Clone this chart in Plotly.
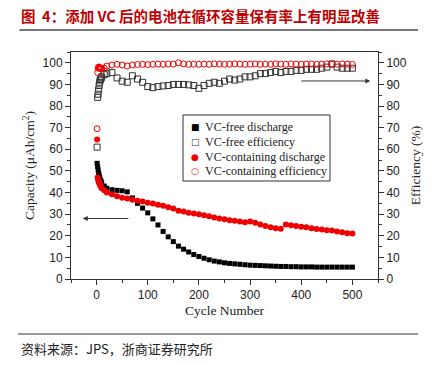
import plotly.graph_objects as go

cycles = [1, 2, 3, 4, 5, 6, 7, 8, 9, 10, 15, 20,
          30, 40, 50, 60, 70, 80, 90, 100, 110, 120, 130, 140, 150, 160, 170, 180, 190, 200,
          210, 220, 230, 240, 250, 260, 270, 280, 290, 300, 310, 320, 330, 340, 350, 360,
          370, 380, 390, 400, 410, 420, 430, 440, 450, 460, 470, 480, 490, 500]

vcfree_discharge = [53.5, 52, 50.5, 49, 48, 47, 46, 45.5, 45, 44.5, 43, 42,
                    41.3, 41, 40.8, 40.3, 37.5, 35, 32.8, 30.6, 27.8, 25, 22, 19.5, 17.3, 15.2, 13.8, 12.5, 11.3, 10.4,
                    9.6, 8.9, 8.3, 7.9, 7.5, 7.2, 7.0, 6.8, 6.6, 6.4, 6.3, 6.2, 6.1, 6.0, 5.9, 5.8,
                    5.8, 5.7, 5.7, 5.6, 5.6, 5.6, 5.5, 5.5, 5.5, 5.5, 5.5, 5.5, 5.5, 5.5]

vcfree_eff = [61, 84, 85.5, 87.5, 89.5, 91, 92, 92.5, 93, 93.5, 94.5, 95,
              95.5, 93, 91.5, 91, 94, 92.5, 91, 89, 88.5, 89, 89.3, 89.5, 90, 90, 90, 89.8, 89.5, 88.2,
              89.5, 90.5, 91, 90.5, 91.5, 92.5, 92, 92.5, 93.5, 93.5, 94, 95, 95, 95.5, 96, 95.5,
              96, 96, 96.5, 96.5, 97, 97, 97, 97.5, 98, 99.5, 98, 97.5, 97.5, 97.5]

vc_discharge = [64.5, 47, 46, 45, 44.5, 44, 43.5, 43, 42.5, 42, 41, 40,
                39.2, 38.3, 37.6, 37.2, 36.7, 36.2, 35.8, 35.3, 34.9, 34.4, 33.9, 33.2, 32.6, 31.6, 31.2, 30.7, 30.3, 30,
                29.5, 29, 28.4, 28, 27.6, 27.2, 26.9, 26.6, 26.3, 26.6, 26.0, 25.2, 24.5, 23.9, 23.5, 23.3,
                25.2, 24.9, 24.5, 24.2, 23.9, 23.5, 23.1, 22.9, 22.6, 22.4, 22.0, 21.6, 21.2, 21.0]

vc_eff = [69.5, 95.5, 97.5, 98, 98, 97.8, 97.5, 97.5, 97.3, 97.3, 97.5, 98.5,
          99, 99.3, 99, 98.5, 99, 99.2, 99.3, 99.2, 99.3, 99.4, 99.3, 99.5, 99.4, 100, 99.5, 99.3, 99.4, 99.3,
          99.4, 99.3, 99.5, 99.4, 99.3, 99.4, 99.5, 99.4, 99.3, 99.4, 99.5, 99.3, 99.4, 99.3, 99.5, 99.4,
          99.3, 99.5, 99.4, 99.3, 99.4, 99.5, 99.3, 99.4, 99.5, 99.3, 99.4, 99.5, 99.4, 99.3]

series_names = ["VC-free discharge", "VC-free efficiency", "VC-containing discharge", "VC-containing efficiency"]
x_ticks = [0, 100, 200, 300, 400, 500]
y_ticks = [0, 10, 20, 30, 40, 50, 60, 70, 80, 90, 100]

title_text = "图  4：添加 VC 后的电池在循环容量保有率上有明显改善"
source_text = "资料来源：JPS，浙商证券研究所"

W, H = 435, 365
L, R, T, B = 71, 57, 52, 86
pw, ph = W - L - R, H - T - B

def px(xp):
    return (xp - L) / pw

def py(yp):
    return (H - B - yp) / ph

RED = "#ee0000"
fig = go.Figure()
fig.add_trace(go.Scatter(x=cycles, y=vcfree_discharge, mode="markers", name=series_names[0],
                         marker=dict(symbol="square", size=5, color="black")))
fig.add_trace(go.Scatter(x=cycles, y=vcfree_eff, mode="markers", name=series_names[1], yaxis="y2",
                         marker=dict(symbol="square-open", size=6, color="#333333", line=dict(width=1))))
fig.add_trace(go.Scatter(x=cycles, y=vc_discharge, mode="markers", name=series_names[2],
                         marker=dict(symbol="circle", size=6, color=RED)))
fig.add_trace(go.Scatter(x=cycles, y=vc_eff, mode="markers", name=series_names[3], yaxis="y2",
                         marker=dict(symbol="circle-open", size=6, color=RED, line=dict(width=1))))

tickfont = dict(family="Liberation Sans, Arial", size=12, color="#222")
titlefont = dict(family="Liberation Serif, Times New Roman", size=13.5, color="#222")

common = dict(ticks="outside", ticklen=5, tickcolor="#333", showline=True, linecolor="#333",
              linewidth=1, showgrid=False, zeroline=False, tickfont=tickfont, automargin=False)

fig.update_layout(
    width=W, height=H,
    margin=dict(l=L, r=R, t=T, b=B),
    paper_bgcolor="white", plot_bgcolor="white",
    showlegend=False,
    xaxis=dict(range=[-50, 550], tickvals=x_ticks, mirror=True,
               title=dict(text="Cycle Number", font=titlefont, standoff=4),
               minor=dict(dtick=50, tick0=0, ticks="outside", ticklen=3, tickcolor="#333", showgrid=False),
               **common),
    yaxis=dict(range=[0, 105], tickvals=y_ticks,
               title=dict(text="Capacity (μAh/cm<sup>2</sup>)", font=titlefont, standoff=4),
               minor=dict(dtick=5, tick0=0, ticks="outside", ticklen=3, tickcolor="#333", showgrid=False),
               **common),
    yaxis2=dict(range=[0, 105], tickvals=y_ticks, overlaying="y", side="right",
                title=dict(text="Efficiency (%)", font=titlefont, standoff=4),
                minor=dict(dtick=5, tick0=0, ticks="outside", ticklen=3, tickcolor="#333", showgrid=False),
                **common),
)

# legend box (drawn manually for compact row spacing)
fig.add_shape(type="rect", xref="paper", yref="paper", x0=px(183), x1=px(330), y0=py(115), y1=py(181),
              line=dict(color="#333", width=1), fillcolor="white", layer="above")
sym = [("■", "black"), ("□", "#333"), ("●", RED), ("○", RED)]
rows = [127, 142, 157, 171]
for (s, c), name, yy in zip(sym, series_names, rows):
    fig.add_annotation(x=px(195), y=py(yy), xref="paper", yref="paper", xanchor="center", yanchor="middle",
                       text=s, showarrow=False, font=dict(family="DejaVu Sans", size=9, color=c))
    fig.add_annotation(x=px(203), y=py(yy), xref="paper", yref="paper", xanchor="left", yanchor="middle",
                       text=name, showarrow=False,
                       font=dict(family="Liberation Serif, Times New Roman", size=12, color="#222"))

# arrows
fig.add_annotation(x=-27, y=28, ax=65, ay=28, xref="x", yref="y", axref="x", ayref="y",
                   showarrow=True, arrowhead=2, arrowsize=1, arrowwidth=1, arrowcolor="#333", text="")
fig.add_annotation(x=535, y=91.6, ax=397, ay=91.6, xref="x", yref="y2", axref="x", ayref="y2",
                   showarrow=True, arrowhead=2, arrowsize=1, arrowwidth=1, arrowcolor="#333", text="")

# header / footer
fig.add_annotation(x=px(19), y=py(15), xref="paper", yref="paper", xanchor="left", yanchor="middle",
                   text="<b>" + title_text + "</b>", showarrow=False,
                   font=dict(family="Noto Sans CJK SC", size=14.5, color="#c00000"))
fig.add_annotation(x=px(19), y=py(348), xref="paper", yref="paper", xanchor="left", yanchor="middle",
                   text=source_text, showarrow=False,
                   font=dict(family="Noto Sans CJK SC", size=13, color="#222"))
# title underline drawn as an arrow-less annotation line
fig.add_annotation(x=px(418), y=py(30), xref="paper", yref="paper", ax=-400, ay=0,
                   axref="pixel", ayref="pixel", text="", showarrow=True, arrowhead=0,
                   arrowwidth=2, arrowcolor="#777", standoff=0, startstandoff=0)
fig.add_shape(type="line", xref="paper", yref="paper", x0=px(18), x1=px(418), y0=py(334), y1=py(334),
              line=dict(color="#333", width=1))

fig.write_html("out.html", config={"displayModeBar": False},
               post_script="document.body.style.margin='0';document.body.style.overflow='hidden';")
